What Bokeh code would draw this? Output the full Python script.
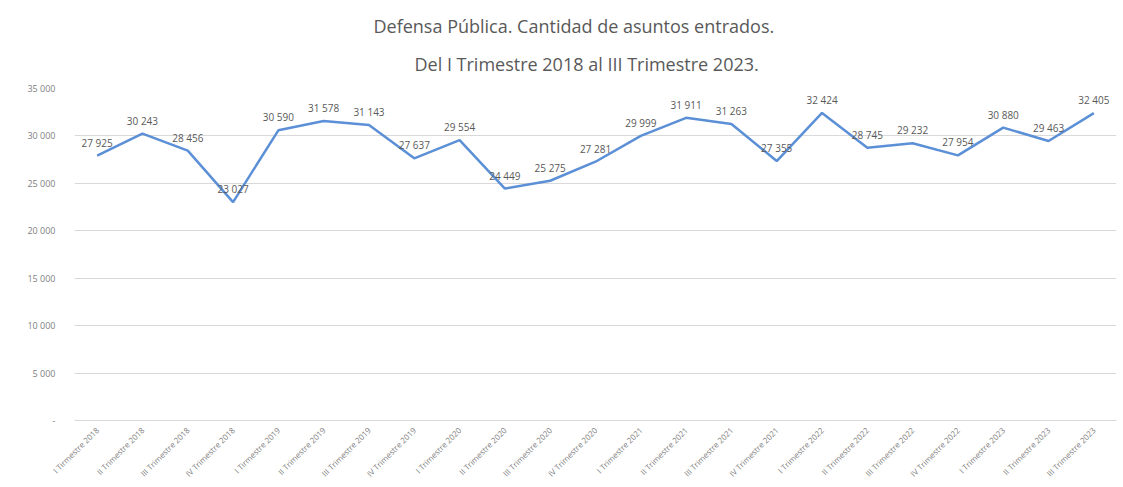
from bokeh.plotting import figure
from bokeh.models import (ColumnDataSource, FactorRange, Range1d, FixedTicker, Title)
from bokeh.core.properties import value
from bokeh.embed import file_html
from bokeh.resources import INLINE
import math

# ---- data ----
quarters = [
    "I Tirmestre 2018", "II Trimestre 2018", "III Trimestre 2018", "IV Trimestre 2018",
    "I Tirmestre 2019", "II Trimestre 2019", "III Trimestre 2019", "IV Trimestre 2019",
    "I Trimestre 2020", "II Trimestre 2020", "III Trimestre 2020", "IV Trimestre 2020",
    "I Trimestre 2021", "II Trimestre 2021", "III Trimestre 2021", "IV Trimestre 2021",
    "I Trimestre 2022", "II Trimestre 2022", "III Trimestre 2022", "IV Trimestre 2022",
    "I Trimestre 2023", "II Trimestre 2023", "III Trimestre 2023",
]
asuntos = [
    27925, 30243, 28456, 23027,
    30590, 31578, 31143, 27637,
    29554, 24449, 25275, 27281,
    29999, 31911, 31263, 27355,
    32424, 28745, 29232, 27954,
    30880, 29463, 32405,
]
y_ticks = [0, 5000, 10000, 15000, 20000, 25000, 30000, 35000]
title_line1 = "Defensa Pública. Cantidad de asuntos entrados."
title_line2 = "Del I Trimestre 2018 al III Trimestre 2023."


def fmt(v):
    return "{:,}".format(v).replace(",", " ")


labels = [fmt(v) for v in asuntos]
source = ColumnDataSource(dict(x=quarters, y=asuntos, label=labels))

FONT = "Open Sans"
GRAY = "#595959"
LIGHT = "#808080"
GRID = "#d9d9d9"
BLUE = "#5B8FD6"

p = figure(
    x_range=FactorRange(*quarters, range_padding=0),
    y_range=Range1d(0, 35000),
    width=1123, height=487,
    output_backend="svg", toolbar_location=None,
    min_border_left=74, min_border_right=7, min_border_top=88, min_border_bottom=67,
)
p.outline_line_color = None
p.background_fill_color = "white"
p.border_fill_color = "white"

# two title lines (second line added first: it sits closest to the plot)
t2 = Title(text=title_line2, align="left", offset=340, vertical_align="bottom",
           text_font=FONT, text_font_size="18px", text_font_style="normal",
           text_color=GRAY, standoff=25)
t1 = Title(text=title_line1, align="left", offset=299, vertical_align="bottom",
           text_font=FONT, text_font_size="18px", text_font_style="normal",
           text_color=GRAY, standoff=0)
p.add_layout(t2, "above")
p.add_layout(t1, "above")

# line and labels
p.line("x", "y", source=source, line_color=BLUE, line_width=2.5)
p.text("x", "y", text="label", source=source, text_font=value(FONT),
       text_font_size="10px", text_color=GRAY, text_align="center",
       text_baseline="middle", y_offset=-13)

# y axis
p.yaxis.ticker = FixedTicker(ticks=y_ticks)
p.yaxis.major_label_overrides = {t: ("-" if t == 0 else fmt(t)) for t in y_ticks}
p.yaxis.axis_line_color = None
p.yaxis.major_tick_line_color = None
p.yaxis.minor_tick_line_color = None
p.yaxis.major_label_text_font = FONT
p.yaxis.major_label_text_font_size = "9px"
p.yaxis.major_label_text_color = LIGHT
p.yaxis.major_label_standoff = 13

# x axis
p.xaxis.axis_line_color = GRID
p.xaxis.major_tick_line_color = None
p.xaxis.minor_tick_line_color = None
p.xaxis.major_label_orientation = math.pi / 4
p.xaxis.major_label_text_font = FONT
p.xaxis.major_label_text_font_size = "8px"
p.xaxis.major_label_text_color = LIGHT
p.xaxis.major_label_standoff = 2

p.xgrid.grid_line_color = None
p.ygrid.grid_line_color = GRID
p.ygrid.grid_line_width = 1

open("out.html", "w").write(file_html(p, INLINE))
